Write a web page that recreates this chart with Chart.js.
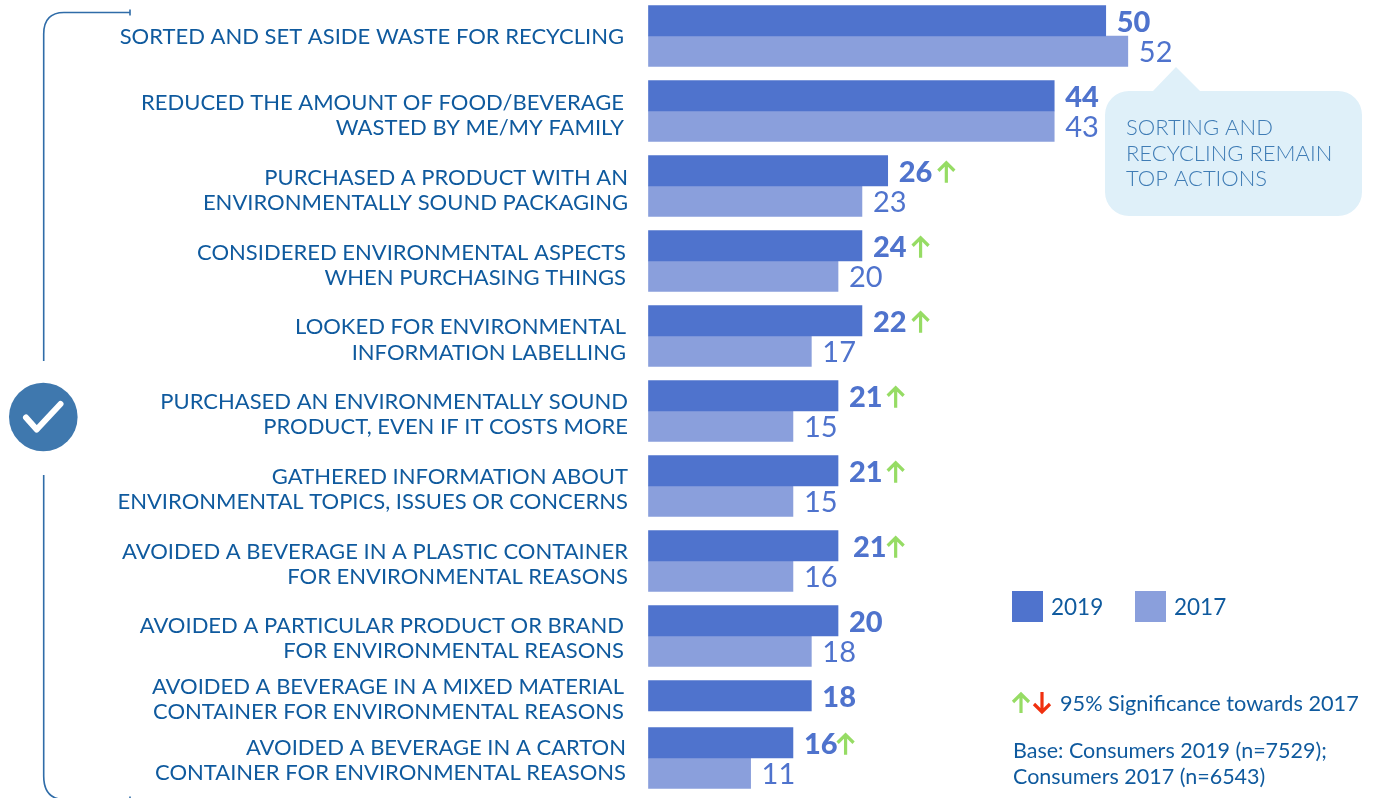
<!DOCTYPE html>
<html>
<head>
<meta charset="utf-8">
<title>Consumer actions</title>
<script src="https://cdn.jsdelivr.net/npm/chart.js@4/dist/chart.umd.js"></script>
<style>
  html, body { margin: 0; padding: 0; background: #fff; }
  canvas { display: block; }
</style>
</head>
<body>
<canvas id="chart" width="1386" height="798"></canvas>
<script>
const categories = [
  ['SORTED AND SET ASIDE WASTE FOR RECYCLING'],
  ['REDUCED THE AMOUNT OF FOOD/BEVERAGE', 'WASTED BY ME/MY FAMILY'],
  ['PURCHASED A PRODUCT WITH AN', 'ENVIRONMENTALLY SOUND PACKAGING'],
  ['CONSIDERED ENVIRONMENTAL ASPECTS', 'WHEN PURCHASING THINGS'],
  ['LOOKED FOR ENVIRONMENTAL', 'INFORMATION LABELLING'],
  ['PURCHASED AN ENVIRONMENTALLY SOUND', 'PRODUCT, EVEN IF IT COSTS MORE'],
  ['GATHERED INFORMATION ABOUT', 'ENVIRONMENTAL TOPICS, ISSUES OR CONCERNS'],
  ['AVOIDED A BEVERAGE IN A PLASTIC CONTAINER', 'FOR ENVIRONMENTAL REASONS'],
  ['AVOIDED A PARTICULAR PRODUCT OR BRAND', 'FOR ENVIRONMENTAL REASONS'],
  ['AVOIDED A BEVERAGE IN A MIXED MATERIAL', 'CONTAINER FOR ENVIRONMENTAL REASONS'],
  ['AVOIDED A BEVERAGE IN A CARTON', 'CONTAINER FOR ENVIRONMENTAL REASONS']
];

// printed numbers
const printed2019 = [50, 44, 26, 24, 22, 21, 21, 21, 20, 18, 16];
const printed2017 = [52, 43, 23, 20, 17, 15, 15, 16, 18, null, 11];
// bar lengths, they do not always follow the printed number
const bars2019 = [49.7, 44.1, 26, 23.2, 23.2, 20.6, 20.6, 20.6, 20.6, 17.7, 15.7];
const bars2017 = [52.1, 44.1, 23.2, 20.6, 17.7, 15.7, 15.7, 15.7, 17.7, null, 11.1];
// significant rise towards 2017
const rising = [false, false, true, true, true, true, true, true, false, false, true];

const BLUE = '#4f73cd';
const LIGHT = '#8a9fdc';
const TEXT = '#0f5a9e';
const FONT = 'Lato';

// small per row corrections of the label block
const labelShiftX = [-4, -4, 0, -2, -2, 0, 0, 0, -4, -4, -2];
const labelShiftY = [0.5, 4.5, 4.5, 4.5, 4, 3.5, 3.5, 3.5, 2.5, -11.5, 2.5];
const valueShiftX = [0, 0, 0, 0, 0, 0, 0, 4, 0, 0, 0];
const arrowShiftX = [0, 0, 0, 0, 0, -1, -1, -5, 0, 0, -6];

// the last row sits closer to the one above it
class ReportRows extends Chart.CategoryScale {
  static id = 'reportRows';
  static defaults = Chart.CategoryScale.defaults;

  getPixelForValue(value, index) {
    const px = super.getPixelForValue(value, index);
    return value === 10 ? px - 28 : px;
  }

  _computeLabelItems(area) {
    const items = super._computeLabelItems(area);
    items.forEach((item, i) => {
      item.options.translation = [
        item.options.translation[0] + labelShiftX[i],
        item.options.translation[1] + labelShiftY[i]
      ];
    });
    return items;
  }
}
Chart.register(ReportRows);

function drawArrow(ctx, x, top, bottom, color) {
  const dir = top < bottom ? 1 : -1;
  ctx.save();
  ctx.strokeStyle = color;
  ctx.lineWidth = 3.2;
  ctx.beginPath();
  ctx.moveTo(x, bottom);
  ctx.lineTo(x, top);
  ctx.moveTo(x - 8, top + dir * 8);
  ctx.lineTo(x, top);
  ctx.lineTo(x + 8, top + dir * 8);
  ctx.stroke();
  ctx.restore();
}

const valueLabels = {
  id: 'valueLabels',
  afterDatasetsDraw(chart) {
    const ctx = chart.ctx;
    ctx.save();
    ctx.textBaseline = 'middle';
    ctx.textAlign = 'left';
    ctx.fillStyle = BLUE;
    chart.getDatasetMeta(0).data.forEach((bar, i) => {
      ctx.font = `900 29px ${FONT}`;
      const x = bar.x + 11 + valueShiftX[i];
      ctx.fillText(String(printed2019[i]), x, bar.y + 2);
      if (rising[i]) {
        const w = ctx.measureText(String(printed2019[i])).width;
        drawArrow(ctx, x + w + 14 + arrowShiftX[i], bar.y - 8, bar.y + 12, '#96dc64');
      }
    });
    chart.getDatasetMeta(1).data.forEach((bar, i) => {
      if (printed2017[i] === null) return;
      ctx.font = `400 29px ${FONT}`;
      ctx.fillText(String(printed2017[i]), bar.x + 11, bar.y + 1);
    });
    ctx.restore();
  }
};

const decorations = {
  id: 'decorations',
  afterDraw(chart) {
    const ctx = chart.ctx;
    ctx.save();

    // bracket, its lower arm runs off the bottom edge
    ctx.strokeStyle = '#2f6ca8';
    ctx.lineWidth = 1.6;
    ctx.beginPath();
    ctx.moveTo(130, 9.5);
    ctx.lineTo(130, 15.5);
    ctx.moveTo(130, 12.5);
    ctx.lineTo(64, 12.5);
    ctx.quadraticCurveTo(43.7, 12.5, 43.7, 34);
    ctx.lineTo(43.7, 361);
    ctx.moveTo(43.7, 475);
    ctx.lineTo(43.7, 776);
    ctx.quadraticCurveTo(43.7, 799, 64, 799.5);
    ctx.moveTo(130, 796.5);
    ctx.lineTo(130, 799);
    ctx.stroke();

    // check mark
    ctx.fillStyle = '#3f78ae';
    ctx.beginPath();
    ctx.arc(43.3, 417, 34.3, 0, Math.PI * 2);
    ctx.fill();
    ctx.strokeStyle = '#fff';
    ctx.lineWidth = 6;
    ctx.lineCap = 'round';
    ctx.lineJoin = 'round';
    ctx.beginPath();
    ctx.moveTo(26, 417.5);
    ctx.lineTo(36.7, 429.5);
    ctx.lineTo(60.5, 404);
    ctx.stroke();
    ctx.lineCap = 'butt';
    ctx.lineJoin = 'miter';

    // callout
    ctx.fillStyle = '#dff0f9';
    ctx.beginPath();
    ctx.roundRect(1105, 91, 257, 125, 24);
    ctx.fill();
    ctx.beginPath();
    ctx.moveTo(1152, 92);
    ctx.lineTo(1176, 67);
    ctx.lineTo(1201, 92);
    ctx.closePath();
    ctx.fill();
    ctx.fillStyle = '#3f7cb5';
    ctx.font = `300 22px ${FONT}`;
    ctx.textBaseline = 'middle';
    ctx.fillText('SORTING AND', 1126, 128);
    ctx.fillText('RECYCLING REMAIN', 1126, 154);
    ctx.fillText('TOP ACTIONS', 1126, 179);

    // legend
    chart.data.datasets.forEach((ds, i) => {
      const x = i === 0 ? 1012 : 1135;
      ctx.fillStyle = ds.backgroundColor;
      ctx.fillRect(x, 591, 31, 31);
      ctx.fillStyle = TEXT;
      ctx.font = `400 22.5px ${FONT}`;
      ctx.fillText(ds.label, x + 39, 608);
    });

    // notes
    drawArrow(ctx, 1021, 694, 713, '#96dc64');
    drawArrow(ctx, 1042, 712, 692, '#f0300f');
    ctx.fillStyle = TEXT;
    ctx.font = `400 21.7px ${FONT}`;
    ctx.fillText('95% Significance towards 2017', 1060, 704);
    ctx.font = `400 21.5px ${FONT}`;
    ctx.fillText('Base: Consumers 2019 (n=7529);', 1013, 751);
    ctx.fillText('Consumers 2017 (n=6543)', 1013, 777);

    ctx.restore();
  }
};

new Chart(document.getElementById('chart'), {
  type: 'bar',
  data: {
    labels: categories,
    datasets: [
      { label: '2019', data: bars2019, backgroundColor: BLUE, clip: false },
      { label: '2017', data: bars2017, backgroundColor: LIGHT, clip: false }
    ]
  },
  options: {
    indexAxis: 'y',
    responsive: false,
    animation: false,
    barThickness: 30.5,
    layout: { padding: { top: 36, bottom: 12, right: 1.5, left: 0 } },
    scales: {
      x: { display: false, min: 0, max: 80 },
      y: {
        type: 'reportRows',
        offset: false,
        grid: { display: false, drawTicks: false },
        border: { display: false },
        ticks: {
          autoSkip: false,
          padding: 20.5,
          color: TEXT,
          font: { family: FONT, size: 22, lineHeight: 1.155 }
        },
        afterFit(scale) {
          scale.width = 648.5;
          scale.paddingTop = 0;
          scale.paddingBottom = 0;
        }
      }
    },
    plugins: { legend: { display: false }, tooltip: { enabled: false } }
  },
  plugins: [valueLabels, decorations]
});
</script>
</body>
</html>
